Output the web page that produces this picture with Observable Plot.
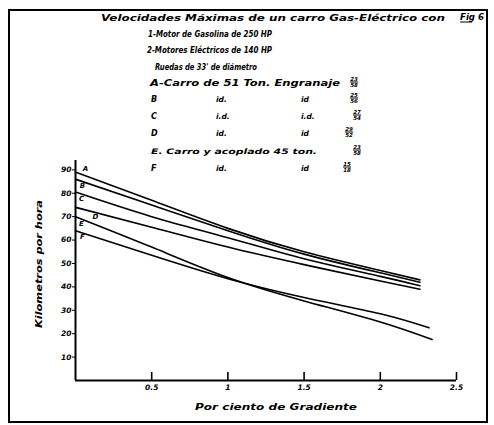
<!DOCTYPE html>
<html><head><meta charset="utf-8">
<script src="https://cdn.jsdelivr.net/npm/d3@7"></script>
<script src="https://cdn.jsdelivr.net/npm/@observablehq/plot@0.6"></script>
<style>body{margin:0;background:#fff}svg{display:block}</style>
</head><body><div id="chart"></div>
<script>
// ---- data ----
const seriesNames = ["A", "B", "C", "D", "E", "F"];
const gradientUpper = [0, 0.5, 1, 1.5, 2, 2.26];
const gradientE = [0, 0.5, 1, 1.5, 2, 2.34];
const gradientF = [0, 0.5, 1, 1.5, 2, 2.32];
const speedA = [89, 77, 65, 55, 47, 43];
const speedB = [86, 75, 64, 54, 46, 42];
const speedC = [80.5, 70, 61, 52, 44.5, 40.5];
const speedD = [74, 65.5, 57, 49.5, 42.5, 39];
const speedE = [70, 57, 44, 34, 25, 17.5];
const speedF = [64, 53.5, 43.5, 35.5, 28.5, 22.5];
const yTicks = [10, 20, 30, 40, 50, 60, 70, 80, 90];
const xTicks = [0.5, 1, 1.5, 2, 2.5];
const xTickLabels = ["0.5", "1", "1.5", "2", "2.5"];
const titleLines = [
  "Velocidades Máximas de un carro Gas-Eléctrico con",
  "1-Motor de Gasolina de 250 HP",
  "2-Motores Eléctricos de 140 HP",
  "Ruedas de 33' de diámetro"
];
const figLabel = "Fig 6";
const legendLetters = ["A", "B", "C", "D", "E", "F"];
const legendText = ["-Carro de 51 Ton. Engranaje", "", "", "", ". Carro y acoplado 45 ton.", ""];
const legendRatioTop = ["23", "25", "27", "29", "23", "15"];
const legendRatioBottom = ["58", "56", "54", "52", "58", "18"];
const yLabel = "Kilometros por hora";
const xLabel = "Por ciento de Gradiente";

const speeds = [speedA, speedB, speedC, speedD, speedE, speedF];
const grads = [gradientUpper, gradientUpper, gradientUpper, gradientUpper, gradientE, gradientF];
const rows = [];
seriesNames.forEach((s, i) => speeds[i].forEach((v, j) => rows.push({series: s, g: grads[i][j], v})));
const firsts = rows.filter((d, i, a) => i === 0 || a[i - 1].series !== d.series);

const labelOffsets = {A: [10, -3], B: [7, 7], C: [6, 7], D: [20, 9], E: [6, 7], F: [7, 6]};
const FONT = "DejaVu Sans";

const plot = Plot.plot({
  width: 494, height: 425,
  marginLeft: 75, marginRight: 38, marginTop: 160, marginBottom: 45,
  style: {fontFamily: FONT, fontStyle: "oblique", fontWeight: "bold", fontSize: "8px", background: "white", color: "black"},
  x: {domain: [0, 2.5]},
  y: {domain: [0, 94]},
  marks: [
    Plot.axisY({ticks: yTicks, tickSize: 3, tickPadding: 1, label: null, fontSize: 7.5}),
    Plot.axisX({ticks: xTicks, tickSize: 0, tickPadding: 4, tickFormat: d => xTickLabels[xTicks.indexOf(d)], label: null, fontSize: 7.5}),
    Plot.ruleX(xTicks, {y1: 0, y2: 3.4, strokeWidth: 1.6}),
    Plot.ruleY([0], {strokeWidth: 2}),
    Plot.ruleX([0], {strokeWidth: 2}),
    Plot.line(rows, {x: "g", y: "v", z: "series", curve: "natural", stroke: "black", strokeWidth: 1.6}),
    ...seriesNames.map(s => Plot.text(firsts.filter(d => d.series === s), {
      x: "g", y: "v", text: "series", dx: labelOffsets[s][0], dy: labelOffsets[s][1],
      fontSize: 7, fontWeight: "bold", fill: "black"
    }))
  ]
});
document.getElementById("chart").appendChild(plot);

// ---- frame, titles and legend text ----
const svg = d3.select(plot);
svg.append("rect").attr("x", 9).attr("y", 10).attr("width", 478).attr("height", 412)
  .attr("fill", "none").attr("stroke", "black").attr("stroke-width", 2);

function txt(str, x, y, size, len, anchor) {
  const t = svg.append("text").attr("x", x).attr("y", y).text(str)
    .attr("font-family", FONT).attr("font-style", "oblique").attr("font-weight", "bold")
    .attr("font-size", size).attr("fill", "black")
    .attr("text-anchor", anchor || "start");
  if (len) t.attr("textLength", len).attr("lengthAdjust", "spacingAndGlyphs");
  return t;
}
txt(titleLines[0], 101, 21, 9, 344);
txt(figLabel, 460, 20, 8, 24);
svg.append("line").attr("x1", 460).attr("x2", 472).attr("y1", 22).attr("y2", 22).attr("stroke", "black").attr("stroke-width", 1);
txt(titleLines[1], 148, 37, 8, 124);
txt(titleLines[2], 147, 53, 8, 125);
txt(titleLines[3], 155, 70, 8, 102);

const rowY = [86, 102, 119, 136, 154, 171];
const ratioX = [354, 354, 357, 349, 357, 347];
legendLetters.forEach((L, i) => {
  if (i === 0) txt(L + legendText[0], 150, rowY[i], 8, 190);
  else if (i === 4) txt(L + legendText[4], 151, rowY[i], 7.5, 166);
  else {
    txt(L, 151, rowY[i], 8);
    txt(i === 2 ? "i.d." : "id.", 216, rowY[i], 7.5);
    txt(i === 2 ? "i.d." : "id", 301, rowY[i], 7.5);
  }
  txt(legendRatioTop[i], ratioX[i], rowY[i] - 5, 5.5, 0, "middle");
  svg.append("line").attr("x1", ratioX[i] - 4).attr("x2", ratioX[i] + 4)
    .attr("y1", rowY[i] - 4).attr("y2", rowY[i] - 4).attr("stroke", "black").attr("stroke-width", 1);
  txt(legendRatioBottom[i], ratioX[i], rowY[i] + 1, 5.5, 0, "middle");
});

// axis titles
txt(yLabel, 0, 0, 8.5, 128, "middle").attr("transform", "translate(42,264) rotate(-90)");
txt(xLabel, 195, 410, 9, 162);
</script>
</body></html>
